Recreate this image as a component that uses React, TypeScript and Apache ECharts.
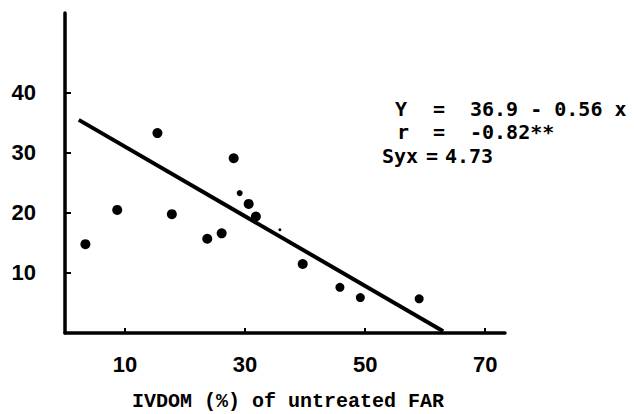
import React, { useEffect, useRef } from "react";
import * as echarts from "echarts";

const xValues = [3.4, 8.7, 15.4, 17.8, 23.7, 26.1, 28.1, 29.1, 30.6, 31.8, 35.8, 39.6, 45.8, 49.2, 59.0];
const yValues = [14.8, 20.5, 33.3, 19.8, 15.7, 16.6, 29.1, 23.3, 21.5, 19.4, 17.2, 11.5, 7.6, 5.9, 5.7];
const pointSizes = [10, 10, 10, 10, 10, 10, 10, 6, 10, 10, 3, 10, 9, 9, 9];
const lineStart = [2.3, 35.5];
const lineEnd = [63, 0.3];
const xTicks = [10, 30, 50, 70];
const yTicks = [10, 20, 30, 40];
const eqLines = [
  ["Y", "=", "36.9 - 0.56 x"],
  ["r", "=", "-0.82**"],
  ["Syx", "=", "4.73"],
];
const xTitle = "IVDOM (%) of untreated FAR";

export default function App() {
  const ref = useRef<HTMLDivElement>(null);
  useEffect(() => {
    document.body.style.margin = "0";
    const chart = echarts.init(ref.current!, null, { renderer: "svg" });
    const labelFont = {
      fontFamily: "'Liberation Sans Narrow', 'Liberation Sans', sans-serif",
      fontWeight: "bold" as const,
      fontSize: 22,
      color: "#000",
    };
    const eqFont = "DejaVu Sans Mono";
    const rowY = [109, 132, 156];
    const colX = [
      [395, 433, 470],
      [397, 433, 470],
      [382, 426, 445],
    ];
    const graphics: any[] = [];
    eqLines.forEach((row, i) => {
      row.forEach((t, j) => {
        graphics.push({
          type: "text",
          x: colX[i][j],
          y: rowY[i],
          style: {
            text: t,
            font: `bold 20px '${eqFont}'`,
            fill: "#000",
            textVerticalAlign: "middle",
          },
        });
      });
    });
    graphics.push({
      type: "text",
      x: 288,
      y: 401,
      style: {
        text: xTitle,
        font: "bold 20px 'Liberation Mono'",
        fill: "#000",
        textAlign: "center",
        textVerticalAlign: "middle",
      },
    });
    chart.setOption({
      animation: false,
      backgroundColor: "#fff",
      grid: { left: 65, right: 129, top: 13, bottom: 81 },
      xAxis: {
        type: "value",
        min: 0,
        max: 73.3,
        splitLine: { show: false },
        axisLine: { show: true, onZero: false, lineStyle: { color: "#000", width: 3.5 } },
        axisTick: { show: true, inside: true, length: 5, customValues: xTicks, lineStyle: { color: "#000", width: 2 } },
        axisLabel: { ...labelFont, margin: 20, customValues: xTicks },
      },
      yAxis: {
        type: "value",
        min: 0,
        max: 53.3,
        splitLine: { show: false },
        axisLine: { show: true, onZero: false, lineStyle: { color: "#000", width: 3.5 } },
        axisTick: { show: true, inside: true, length: 6, customValues: yTicks, lineStyle: { color: "#000", width: 2 } },
        axisLabel: { ...labelFont, margin: 29, customValues: yTicks },
      },
      series: [
        {
          type: "scatter",
          data: xValues.map((x, i) => ({ value: [x, yValues[i]], symbolSize: pointSizes[i] })),
          itemStyle: { color: "#000", opacity: 1 },
        },
        {
          type: "line",
          data: [lineStart, lineEnd],
          symbol: "none",
          lineStyle: { color: "#000", width: 4 },
        },
      ],
      graphic: graphics,
    });
    return () => chart.dispose();
  }, []);
  return <div ref={ref} style={{ width: 634, height: 414 }} />;
}
